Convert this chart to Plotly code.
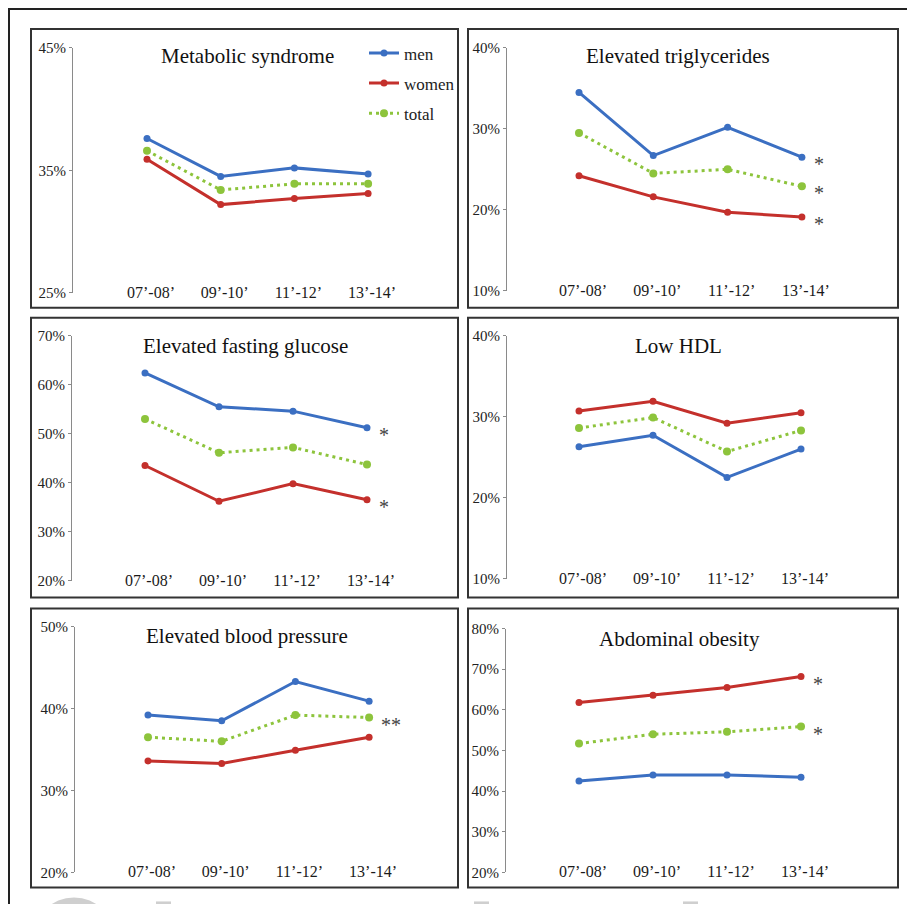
import plotly.graph_objects as go

# ---------------- data ----------------
categories = ["07’-08’", "09’-10’", "11’-12’", "13’-14’"]
series_names = ["men", "women", "total"]

ms_men = [37.6, 34.5, 35.2, 34.7]
ms_women = [35.9, 32.2, 32.7, 33.1]
ms_total = [36.6, 33.4, 33.9, 33.9]

tg_men = [34.5, 26.7, 30.2, 26.5]
tg_women = [24.2, 21.6, 19.7, 19.1]
tg_total = [29.5, 24.5, 25.0, 22.9]

fg_men = [62.4, 55.5, 54.6, 51.2]
fg_women = [43.5, 36.2, 39.8, 36.5]
fg_total = [53.0, 46.1, 47.2, 43.7]

hdl_men = [26.3, 27.7, 22.5, 26.0]
hdl_women = [30.7, 31.9, 29.2, 30.5]
hdl_total = [28.6, 29.9, 25.7, 28.3]

bp_men = [39.2, 38.5, 43.3, 40.9]
bp_women = [33.6, 33.3, 34.9, 36.5]
bp_total = [36.5, 36.0, 39.2, 38.9]

ao_men = [42.5, 44.0, 44.0, 43.4]
ao_women = [61.8, 63.6, 65.5, 68.2]
ao_total = [51.7, 54.0, 54.6, 55.9]

titles = ["Metabolic syndrome", "Elevated triglycerides", "Elevated fasting glucose",
          "Low HDL", "Elevated blood pressure", "Abdominal obesity"]
y_ticks = [[25, 35, 45], [10, 20, 30, 40], [20, 30, 40, 50, 60, 70],
           [10, 20, 30, 40], [20, 30, 40, 50], [20, 30, 40, 50, 60, 70, 80]]
# significance marks: (series, text)
marks = [[], [("men", "*"), ("total", "*"), ("women", "*")],
         [("men", "*"), ("women", "*")], [], [("total", "**")],
         [("women", "*"), ("total", "*")]]
panel_data = [
    (ms_men, ms_women, ms_total), (tg_men, tg_women, tg_total),
    (fg_men, fg_women, fg_total), (hdl_men, hdl_women, hdl_total),
    (bp_men, bp_women, bp_total), (ao_men, ao_women, ao_total),
]

# ---------------- layout geometry (target picture pixels) ----------------
W, H = 907, 912
SY, OY = 0.983, 7.2      # picture-to-figure vertical mapping of the viewer
# axis_x, first point x, step, right edge, top(px of max), bottom(px of min)
geom = [
    (73, 147, 73.7, 458, 47, 292),
    (507, 579, 74.3, 898, 47, 290),
    (72, 145, 74.0, 458, 335, 580),
    (507, 579, 74.0, 898, 335, 578),
    (75, 148, 73.7, 458, 626, 872),
    (506, 579, 74.0, 898, 628, 872),
]
boxes = [(31, 28, 458, 307), (468, 28, 898, 307),
         (31, 317, 458, 597), (468, 317, 898, 597),
         (31, 608, 458, 887), (468, 608, 898, 887)]
title_pos = [(247, 55), (678, 55), (245, 345), (678, 345), (247, 635), (679, 638)]

colors = {"men": "#3b6fc2", "women": "#c4302c", "total": "#8dc43c"}
FONT = "Liberation Serif"

fig = go.Figure()
layout = dict(width=W, height=H, margin=dict(l=0, r=0, t=0, b=0),
              paper_bgcolor="white", plot_bgcolor="rgba(0,0,0,0)",
              showlegend=True)
shapes = []
annotations = []


def px_x(p):
    return p / W


def px_y(p):
    return 1 - (p / SY - OY) / H


xvals = list(range(len(categories)))

for i in range(6):
    ax, first, step, right, top, bottom = geom[i]
    xa = "xaxis" if i == 0 else f"xaxis{i+1}"
    ya = "yaxis" if i == 0 else f"yaxis{i+1}"
    xr = "x" if i == 0 else f"x{i+1}"
    yr = "y" if i == 0 else f"y{i+1}"
    ymin, ymax = y_ticks[i][0], y_ticks[i][-1]
    layout[xa] = dict(domain=[px_x(ax), px_x(right)],
                      range=[(ax - first) / step, (right - first) / step],
                      anchor="free", position=px_y(bottom - 12),
                      tickvals=xvals, ticktext=categories, ticklabelshift=4,
                      showline=False, showgrid=False, zeroline=False, ticks="",
                      tickfont=dict(family=FONT, size=16, color="#1a1a1a"),
                      fixedrange=True)
    layout[ya] = dict(domain=[px_y(bottom), px_y(top)], range=[ymin, ymax],
                      anchor=xr, tickvals=y_ticks[i],
                      ticktext=[f"{v}%" for v in y_ticks[i]],
                      showline=True, linecolor="#8a8a8a", linewidth=1,
                      ticks="outside", ticklen=3, tickcolor="#8a8a8a",
                      showgrid=False, zeroline=False,
                      tickfont=dict(family=FONT, size=15, color="#222"),
                      fixedrange=True)
    vals = dict(zip(series_names, panel_data[i]))
    for name in series_names:
        dotted = name == "total"
        fig.add_trace(go.Scatter(
            x=xvals, y=vals[name], name=name, mode="lines+markers",
            xaxis=xr, yaxis=yr,
            line=dict(color=colors[name], width=3,
                      dash="3px,4px" if dotted else "solid"),
            marker=dict(color=colors[name], size=8 if dotted else 7),
            showlegend=(i == 0), legendgroup=name,
        ))
    for (sname, txt) in marks[i]:
        annotations.append(dict(x=3, y=vals[sname][-1], xref=xr, yref=yr,
                                text=txt, showarrow=False, xanchor="left",
                                xshift=10, yshift=-7,
                                font=dict(family=FONT, size=20, color="#444")))
    tx, ty = title_pos[i]
    annotations.append(dict(x=px_x(tx), y=px_y(ty), xref="paper", yref="paper",
                            text=titles[i], showarrow=False,
                            xanchor="center", yanchor="middle",
                            font=dict(family=FONT, size=21, color="#111")))
    bx0, by0, bx1, by1 = boxes[i]
    shapes.append(dict(type="rect", xref="paper", yref="paper",
                       x0=px_x(bx0), x1=px_x(bx1), y0=px_y(by1), y1=px_y(by0),
                       line=dict(color="#333", width=2)))

# faint watermark remnants along the bottom edge
shapes.append(dict(type="circle", xref="paper", yref="paper", layer="below",
                   x0=px_x(33), x1=px_x(115), y0=px_y(980), y1=px_y(897),
                   fillcolor="#cfcfcf", line=dict(width=0)))
for bx in (156, 474, 683):
    shapes.append(dict(type="rect", xref="paper", yref="paper", layer="below",
                       x0=px_x(bx), x1=px_x(bx + 15), y0=-0.05, y1=px_y(901),
                       fillcolor="#cfcfcf", line=dict(width=0)))

# outer frame
shapes.append(dict(type="rect", xref="paper", yref="paper",
                   x0=px_x(9), x1=px_x(915), y0=-0.05, y1=px_y(8),
                   line=dict(color="#222", width=2)))

layout["shapes"] = shapes
layout["annotations"] = annotations
layout["legend"] = dict(x=px_x(364), y=px_y(34.5), xanchor="left", yanchor="top",
                        bgcolor="rgba(0,0,0,0)", traceorder="grouped",
                        tracegroupgap=5, itemwidth=30,
                        font=dict(family=FONT, size=17, color="#222"))
fig.update_layout(**layout)
fig.write_html("out.html", config={"displayModeBar": False},
               post_script="document.body.style.margin='0px';"
                           "document.documentElement.style.overflow='hidden';")
